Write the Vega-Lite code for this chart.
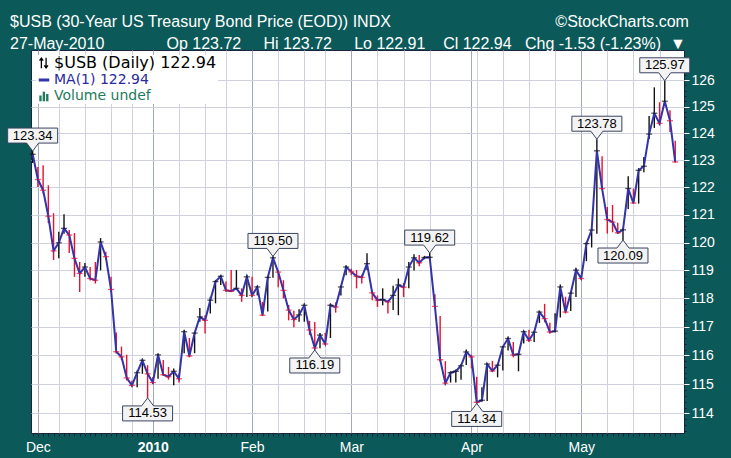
{
  "$schema": "https://vega.github.io/schema/vega-lite/v6.json",
  "width": 653,
  "height": 383,
  "autosize": {"type": "none"},
  "padding": {"left": 31, "top": 50, "right": 47, "bottom": 25},
  "background": "#0b5959",
  "config": {
    "font": "Liberation Sans",
    "view": {"fill": "white", "stroke": "#1b2440", "strokeWidth": 1}
  },
  "title": {
    "text": "$USB (30-Year US Treasury Bond Price (EOD)) INDX\u00a0\u00a0\u00a0\u00a0\u00a0\u00a0\u00a0\u00a0\u00a0\u00a0\u00a0\u00a0\u00a0\u00a0\u00a0\u00a0\u00a0\u00a0\u00a0\u00a0\u00a0\u00a0\u00a0\u00a0\u00a0\u00a0\u00a0\u00a0\u00a0\u00a0\u00a0\u00a0\u00a0\u00a0\u00a0\u00a0\u00a0©StockCharts.com",
    "subtitle": "27-May-2010\u00a0\u00a0\u00a0\u00a0\u00a0\u00a0\u00a0\u00a0\u00a0\u00a0\u00a0\u00a0\u00a0\u00a0Op 123.72\u00a0\u00a0\u00a0\u00a0\u00a0Hi 123.72\u00a0\u00a0\u00a0\u00a0\u00a0Lo 122.91\u00a0\u00a0\u00a0\u00a0Cl 122.94\u00a0\u00a0\u00a0Chg -1.53 (-1.23%)\u00a0\u00a0▼",
    "anchor": "start",
    "frame": "group",
    "dx": -21,
    "offset": -2,
    "color": "white",
    "subtitleColor": "white",
    "font": "Liberation Sans",
    "subtitleFont": "Liberation Sans",
    "fontSize": 16,
    "fontWeight": "normal",
    "subtitleFontSize": 16,
    "subtitlePadding": 6
  },
  "datasets": {
    "px": [
      {"d": "2009-11-30", "h": 123.34, "l": 122.9, "c": 123.22},
      {"d": "2009-12-01", "h": 122.75, "l": 122.02, "c": 122.29},
      {"d": "2009-12-02", "h": 122.82, "l": 121.78, "c": 121.9},
      {"d": "2009-12-03", "h": 122.08, "l": 120.7, "c": 120.95},
      {"d": "2009-12-04", "h": 121.06, "l": 119.37, "c": 119.7},
      {"d": "2009-12-07", "h": 120.39, "l": 119.43, "c": 119.99},
      {"d": "2009-12-08", "h": 121.02, "l": 120.32, "c": 120.51},
      {"d": "2009-12-09", "h": 120.45, "l": 119.62, "c": 120.27},
      {"d": "2009-12-10", "h": 120.34, "l": 118.77, "c": 119.43},
      {"d": "2009-12-11", "h": 119.3, "l": 118.23, "c": 118.89},
      {"d": "2009-12-14", "h": 119.26, "l": 118.77, "c": 119.12},
      {"d": "2009-12-15", "h": 119.12, "l": 118.64, "c": 118.71},
      {"d": "2009-12-16", "h": 119.3, "l": 118.53, "c": 118.65},
      {"d": "2009-12-17", "h": 120.16, "l": 119.0, "c": 120.02},
      {"d": "2009-12-18", "h": 119.67, "l": 119.37, "c": 119.49},
      {"d": "2009-12-21", "h": 118.77, "l": 118.23, "c": 118.32},
      {"d": "2009-12-22", "h": 116.8, "l": 116.07, "c": 116.13},
      {"d": "2009-12-23", "h": 116.31, "l": 115.84, "c": 115.95},
      {"d": "2009-12-24", "h": 116.02, "l": 115.13, "c": 115.22},
      {"d": "2009-12-28", "h": 115.13, "l": 114.9, "c": 114.96},
      {"d": "2009-12-29", "h": 115.48, "l": 114.9, "c": 115.4},
      {"d": "2009-12-30", "h": 115.89, "l": 115.36, "c": 115.83},
      {"d": "2009-12-31", "h": 115.66, "l": 114.53, "c": 115.36},
      {"d": "2010-01-04", "h": 115.25, "l": 115.01, "c": 115.06},
      {"d": "2010-01-05", "h": 116.08, "l": 115.19, "c": 116.02},
      {"d": "2010-01-06", "h": 115.84, "l": 115.3, "c": 115.33},
      {"d": "2010-01-07", "h": 115.6, "l": 115.16, "c": 115.26},
      {"d": "2010-01-08", "h": 115.55, "l": 114.97, "c": 115.45},
      {"d": "2010-01-11", "h": 115.36, "l": 115.06, "c": 115.19},
      {"d": "2010-01-12", "h": 116.9, "l": 116.08, "c": 116.83},
      {"d": "2010-01-13", "h": 116.61, "l": 115.93, "c": 115.98},
      {"d": "2010-01-14", "h": 116.83, "l": 116.08, "c": 116.78},
      {"d": "2010-01-15", "h": 117.66, "l": 117.18, "c": 117.35},
      {"d": "2010-01-19", "h": 117.41, "l": 116.77, "c": 117.23},
      {"d": "2010-01-20", "h": 118.06, "l": 117.47, "c": 117.94},
      {"d": "2010-01-21", "h": 118.66, "l": 117.83, "c": 118.6},
      {"d": "2010-01-22", "h": 118.84, "l": 118.48, "c": 118.79},
      {"d": "2010-01-25", "h": 118.6, "l": 118.23, "c": 118.29},
      {"d": "2010-01-26", "h": 119.01, "l": 118.23, "c": 118.26},
      {"d": "2010-01-27", "h": 119.01, "l": 118.3, "c": 118.36},
      {"d": "2010-01-28", "h": 118.36, "l": 117.88, "c": 118.11},
      {"d": "2010-01-29", "h": 118.84, "l": 118.05, "c": 118.77},
      {"d": "2010-02-01", "h": 118.77, "l": 118.05, "c": 118.11},
      {"d": "2010-02-02", "h": 118.45, "l": 118.11, "c": 118.41},
      {"d": "2010-02-03", "h": 117.88, "l": 117.38, "c": 117.41},
      {"d": "2010-02-04", "h": 118.77, "l": 117.54, "c": 118.75},
      {"d": "2010-02-05", "h": 119.5, "l": 118.74, "c": 119.45},
      {"d": "2010-02-08", "h": 119.01, "l": 118.4, "c": 118.94},
      {"d": "2010-02-09", "h": 118.65, "l": 118.0, "c": 118.29},
      {"d": "2010-02-10", "h": 117.77, "l": 117.23, "c": 117.59},
      {"d": "2010-02-11", "h": 117.57, "l": 116.99, "c": 117.26},
      {"d": "2010-02-12", "h": 117.62, "l": 117.18, "c": 117.42},
      {"d": "2010-02-16", "h": 117.83, "l": 117.18, "c": 117.76},
      {"d": "2010-02-17", "h": 117.21, "l": 116.71, "c": 116.89},
      {"d": "2010-02-18", "h": 117.17, "l": 116.19, "c": 116.26},
      {"d": "2010-02-19", "h": 116.78, "l": 116.25, "c": 116.71},
      {"d": "2010-02-22", "h": 116.78, "l": 116.37, "c": 116.4},
      {"d": "2010-02-23", "h": 117.83, "l": 116.61, "c": 117.76},
      {"d": "2010-02-24", "h": 117.86, "l": 117.5, "c": 117.7},
      {"d": "2010-02-25", "h": 118.47, "l": 118.11, "c": 118.41},
      {"d": "2010-02-26", "h": 119.18, "l": 118.83, "c": 119.12},
      {"d": "2010-03-01", "h": 119.06, "l": 118.83, "c": 118.95},
      {"d": "2010-03-02", "h": 119.01, "l": 118.36, "c": 118.79},
      {"d": "2010-03-03", "h": 118.84, "l": 118.53, "c": 118.75},
      {"d": "2010-03-04", "h": 119.61, "l": 119.01, "c": 119.24},
      {"d": "2010-03-05", "h": 118.25, "l": 117.94, "c": 118.2},
      {"d": "2010-03-08", "h": 118.11, "l": 117.7, "c": 117.94},
      {"d": "2010-03-09", "h": 118.36, "l": 117.76, "c": 117.96},
      {"d": "2010-03-10", "h": 117.94, "l": 117.47, "c": 117.88},
      {"d": "2010-03-11", "h": 118.45, "l": 117.59, "c": 118.11},
      {"d": "2010-03-12", "h": 118.71, "l": 117.41, "c": 118.48},
      {"d": "2010-03-15", "h": 118.55, "l": 118.05, "c": 118.4},
      {"d": "2010-03-16", "h": 119.3, "l": 118.36, "c": 119.12},
      {"d": "2010-03-17", "h": 119.58, "l": 119.0, "c": 119.45},
      {"d": "2010-03-18", "h": 119.55, "l": 119.15, "c": 119.27},
      {"d": "2010-03-19", "h": 119.52, "l": 119.4, "c": 119.46},
      {"d": "2010-03-22", "h": 119.62, "l": 119.38, "c": 119.47},
      {"d": "2010-03-23", "h": 118.15, "l": 117.66, "c": 117.72},
      {"d": "2010-03-24", "h": 117.38, "l": 115.8, "c": 115.85},
      {"d": "2010-03-25", "h": 115.8, "l": 114.97, "c": 115.04},
      {"d": "2010-03-26", "h": 115.45, "l": 115.06, "c": 115.4},
      {"d": "2010-03-29", "h": 115.51, "l": 115.06, "c": 115.45},
      {"d": "2010-03-30", "h": 115.7, "l": 115.16, "c": 115.64},
      {"d": "2010-03-31", "h": 116.21, "l": 115.67, "c": 116.12},
      {"d": "2010-04-01", "h": 116.02, "l": 115.55, "c": 115.95},
      {"d": "2010-04-05", "h": 115.26, "l": 114.34, "c": 114.38},
      {"d": "2010-04-06", "h": 114.9, "l": 114.4, "c": 114.45},
      {"d": "2010-04-07", "h": 115.72, "l": 114.42, "c": 115.7},
      {"d": "2010-04-08", "h": 115.81, "l": 115.43, "c": 115.46},
      {"d": "2010-04-09", "h": 115.73, "l": 115.24, "c": 115.66},
      {"d": "2010-04-12", "h": 116.32, "l": 115.48, "c": 116.3},
      {"d": "2010-04-13", "h": 116.66, "l": 116.17, "c": 116.59},
      {"d": "2010-04-14", "h": 116.47, "l": 115.94, "c": 116.02},
      {"d": "2010-04-15", "h": 116.09, "l": 115.45, "c": 116.04},
      {"d": "2010-04-16", "h": 116.86, "l": 116.42, "c": 116.83},
      {"d": "2010-04-19", "h": 116.9, "l": 116.47, "c": 116.53},
      {"d": "2010-04-20", "h": 116.86, "l": 116.47, "c": 116.81},
      {"d": "2010-04-21", "h": 117.57, "l": 117.14, "c": 117.52},
      {"d": "2010-04-22", "h": 117.81, "l": 117.16, "c": 117.29},
      {"d": "2010-04-23", "h": 117.14, "l": 116.76, "c": 116.82},
      {"d": "2010-04-26", "h": 117.48, "l": 116.8, "c": 116.85},
      {"d": "2010-04-27", "h": 118.5, "l": 117.33, "c": 118.41},
      {"d": "2010-04-28", "h": 118.06, "l": 117.47, "c": 117.52},
      {"d": "2010-04-29", "h": 118.26, "l": 117.56, "c": 118.19},
      {"d": "2010-04-30", "h": 119.09, "l": 118.05, "c": 119.01},
      {"d": "2010-05-03", "h": 118.79, "l": 118.67, "c": 118.71},
      {"d": "2010-05-04", "h": 120.02, "l": 119.33, "c": 119.96},
      {"d": "2010-05-05", "h": 120.51, "l": 119.82, "c": 120.45},
      {"d": "2010-05-06", "h": 123.78, "l": 120.32, "c": 123.35},
      {"d": "2010-05-07", "h": 123.15, "l": 121.91, "c": 121.96},
      {"d": "2010-05-10", "h": 121.29, "l": 120.32, "c": 120.83},
      {"d": "2010-05-11", "h": 121.36, "l": 120.37, "c": 120.74},
      {"d": "2010-05-12", "h": 120.71, "l": 120.32, "c": 120.35},
      {"d": "2010-05-13", "h": 120.52, "l": 120.09, "c": 120.46},
      {"d": "2010-05-14", "h": 122.41, "l": 121.21, "c": 121.96},
      {"d": "2010-05-17", "h": 121.96, "l": 121.41, "c": 121.43},
      {"d": "2010-05-18", "h": 122.71, "l": 121.41, "c": 122.63},
      {"d": "2010-05-19", "h": 123.12, "l": 122.56, "c": 122.78},
      {"d": "2010-05-20", "h": 124.65, "l": 123.79, "c": 123.97},
      {"d": "2010-05-21", "h": 125.72, "l": 124.2, "c": 124.75},
      {"d": "2010-05-24", "h": 125.16, "l": 124.3, "c": 124.37},
      {"d": "2010-05-25", "h": 125.97, "l": 125.15, "c": 125.2},
      {"d": "2010-05-26", "h": 124.86, "l": 124.05, "c": 124.47},
      {"d": "2010-05-27", "h": 123.72, "l": 122.91, "c": 122.94}
    ],
    "notes": [
      {"d": "2009-11-30", "v": 123.34, "pos": "above"},
      {"d": "2009-12-31", "v": 114.53, "pos": "below"},
      {"d": "2010-02-05", "v": 119.5, "pos": "above"},
      {"d": "2010-02-18", "v": 116.19, "pos": "below"},
      {"d": "2010-03-22", "v": 119.62, "pos": "above"},
      {"d": "2010-04-05", "v": 114.34, "pos": "below"},
      {"d": "2010-05-06", "v": 123.78, "pos": "above"},
      {"d": "2010-05-13", "v": 120.09, "pos": "below"},
      {"d": "2010-05-25", "v": 125.97, "pos": "above"}
    ]
  },
  "data": {"name": "px"},
  "layer": [
    {
      "transform": [{"window": [{"op": "lag", "field": "c", "as": "pc"}], "sort": [{"field": "d", "order": "ascending"}]}],
      "mark": {"type": "rule", "strokeWidth": 1.4},
      "encoding": {
        "x": {
          "field": "d", "type": "ordinal",
          "scale": {"type": "point", "padding": 1.25, "align": 0.16},
          "axis": {
            "title": null, "domain": false, "labelAngle": 0, "labelOverlap": false,
            "labelColor": "white", "labelFont": "Liberation Sans", "labelFontSize": 14,
            "labelPadding": 4, "labelBaseline": "top", "labelAlign": "center", "labelFlush": false,
            "labelExpr": "datum.value === '2009-12-01' ? 'Dec' : datum.value === '2010-01-04' ? '2010' : datum.value === '2010-02-01' ? 'Feb' : datum.value === '2010-03-01' ? 'Mar' : datum.value === '2010-04-01' ? 'Apr' : datum.value === '2010-05-03' ? 'May' : ''",
            "labelFontWeight": {"condition": {"test": "datum.value === '2010-01-04'", "value": "bold"}, "value": "normal"},
            "ticks": true, "tickSize": 3, "tickColor": "#15203a", "tickWidth": 1,
            "grid": true, "gridWidth": 1,
            "gridColor": {"condition": {"test": "indexof(['2009-12-01','2010-01-04','2010-02-01','2010-03-01','2010-04-01','2010-05-03'], datum.value) >= 0", "value": "#a3a8c2"}, "value": "#cfd1df"},
            "gridOpacity": {"condition": {"test": "indexof(['2009-12-01','2010-01-04','2010-02-01','2010-03-01','2010-04-01','2010-05-03','2009-12-07','2009-12-14','2009-12-21','2009-12-28','2010-01-11','2010-01-19','2010-01-25','2010-02-08','2010-02-16','2010-02-22','2010-03-08','2010-03-15','2010-03-22','2010-04-05','2010-04-12','2010-04-19','2010-04-26','2010-05-10','2010-05-17','2010-05-24'], datum.value) >= 0", "value": 1}, "value": 0}
          }
        },
        "y": {
          "field": "l", "type": "quantitative",
          "scale": {"type": "log", "domain": [113.33, 127.14], "nice": false},
          "axis": {
            "orient": "right", "title": null, "domain": false,
            "values": [113.4,113.6,113.8,114,114.2,114.4,114.6,114.8,115,115.2,115.4,115.6,115.8,116,116.2,116.4,116.6,116.8,117,117.2,117.4,117.6,117.8,118,118.2,118.4,118.6,118.8,119,119.2,119.4,119.6,119.8,120,120.2,120.4,120.6,120.8,121,121.2,121.4,121.6,121.8,122,122.2,122.4,122.6,122.8,123,123.2,123.4,123.6,123.8,124,124.2,124.4,124.6,124.8,125,125.2,125.4,125.6,125.8,126,126.2,126.4,126.6,126.8],
            "labelExpr": "abs(datum.value - round(datum.value)) < 0.01 ? '' + round(datum.value) : ''",
            "labelOverlap": false, "labelFlush": false,
            "labelColor": "white", "labelFont": "Liberation Sans", "labelFontSize": 14, "labelPadding": 2,
            "tickSize": {"condition": {"test": "abs(datum.value - round(datum.value)) < 0.01", "value": 5}, "value": 2},
            "tickColor": {"condition": {"test": "abs(datum.value - round(datum.value)) < 0.01", "value": "white"}, "value": "#14203a"},
            "grid": true, "gridColor": "#cfd1df", "gridWidth": 1,
            "gridOpacity": {"condition": {"test": "abs(datum.value - round(datum.value)) < 0.01", "value": 1}, "value": 0}
          }
        },
        "y2": {"field": "h"},
        "color": {"condition": {"test": "datum.pc == null || datum.c >= datum.pc", "value": "#111111"}, "value": "#e8102e"}
      }
    },
    {
      "mark": {"type": "line", "strokeWidth": 2},
      "encoding": {
        "x": {"field": "d", "type": "ordinal"},
        "y": {"field": "c", "type": "quantitative"},
        "color": {
          "datum": "MA(1) 122.94", "type": "nominal",
          "scale": {"domain": ["$USB (Daily) 122.94", "MA(1) 122.94", "Volume undef"], "range": ["#000000", "#3333aa", "#1f7a5c"]},
          "legend": {
            "title": null, "orient": "top-left", "offset": 5, "padding": 1,
            "fillColor": "white", "strokeColor": null,
            "labelFont": "DejaVu Sans", "labelFontSize": 14, "labelOffset": 3, "labelLimit": 400,
            "symbolSize": 110, "rowPadding": 2, "symbolStrokeWidth": 2.5,
            "encode": {
              "labels": {"update": {
                "fill": {"signal": "datum.value === 'MA(1) 122.94' ? '#2a2a9e' : datum.value === 'Volume undef' ? '#1f7a5c' : '#000000'"},
                "fontSize": {"signal": "datum.value === '$USB (Daily) 122.94' ? 16 : 14"}
              }},
              "symbols": {"update": {
                "shape": {"signal": "datum.value === 'MA(1) 122.94' ? 'M-1,0L1,0' : datum.value === 'Volume undef' ? 'M-0.9,1V-0.1H-0.45V1ZM-0.25,1V-0.8H0.2V1ZM0.4,1V-0.4H0.85V1Z' : 'M-0.5,1V-0.9M-0.85,-0.45L-0.5,-0.95L-0.15,-0.45M0.4,-1V0.9M0.05,0.45L0.4,0.95L0.75,0.45'"},
                "fill": {"signal": "datum.value === 'Volume undef' ? '#1f7a5c' : 'transparent'"},
                "strokeWidth": {"signal": "datum.value === 'MA(1) 122.94' ? 3 : datum.value === 'Volume undef' ? 0 : 1.3"}
              }}
            }
          }
        }
      }
    },
    {
      "transform": [{"window": [{"op": "lag", "field": "c", "as": "pc"}], "sort": [{"field": "d", "order": "ascending"}]}],
      "mark": {"type": "tick", "size": 6, "thickness": 1.3},
      "encoding": {
        "x": {"field": "d", "type": "ordinal"},
        "y": {"field": "c", "type": "quantitative"},
        "color": {"condition": {"test": "datum.pc == null || datum.c >= datum.pc", "value": "#111111"}, "value": "#e8102e"}
      }
    },
    {
      "data": {"name": "notes"},
      "transform": [{"filter": "datum.pos === 'above'"}],
      "mark": {"type": "point", "shape": "M-1,-0.92L1,-0.92L1,-0.32L0.24,-0.32L0,0L-0.24,-0.32L-1,-0.32Z", "size": 2500, "filled": true, "fill": "#f3f3f3", "stroke": "#3a4460", "strokeWidth": 1, "opacity": 1, "fillOpacity": 1, "strokeOpacity": 1},
      "encoding": {
        "x": {"field": "d", "type": "ordinal"},
        "y": {"field": "v", "type": "quantitative"}
      }
    },
    {
      "data": {"name": "notes"},
      "transform": [{"filter": "datum.pos === 'below'"}],
      "mark": {"type": "point", "shape": "M-1,0.92L1,0.92L1,0.32L0.24,0.32L0,0L-0.24,0.32L-1,0.32Z", "size": 2500, "filled": true, "fill": "#f3f3f3", "stroke": "#3a4460", "strokeWidth": 1, "opacity": 1, "fillOpacity": 1, "strokeOpacity": 1},
      "encoding": {
        "x": {"field": "d", "type": "ordinal"},
        "y": {"field": "v", "type": "quantitative"}
      }
    },
    {
      "data": {"name": "notes"},
      "transform": [{"filter": "datum.pos === 'above'"}],
      "mark": {"type": "text", "dy": -15.5, "baseline": "middle", "align": "center", "font": "Liberation Sans", "fontSize": 13, "color": "#000000"},
      "encoding": {
        "x": {"field": "d", "type": "ordinal"},
        "y": {"field": "v", "type": "quantitative"},
        "text": {"field": "v", "type": "quantitative", "format": ".2f"}
      }
    },
    {
      "data": {"name": "notes"},
      "transform": [{"filter": "datum.pos === 'below'"}],
      "mark": {"type": "text", "dy": 15.5, "baseline": "middle", "align": "center", "font": "Liberation Sans", "fontSize": 13, "color": "#000000"},
      "encoding": {
        "x": {"field": "d", "type": "ordinal"},
        "y": {"field": "v", "type": "quantitative"},
        "text": {"field": "v", "type": "quantitative", "format": ".2f"}
      }
    }
  ]
}
